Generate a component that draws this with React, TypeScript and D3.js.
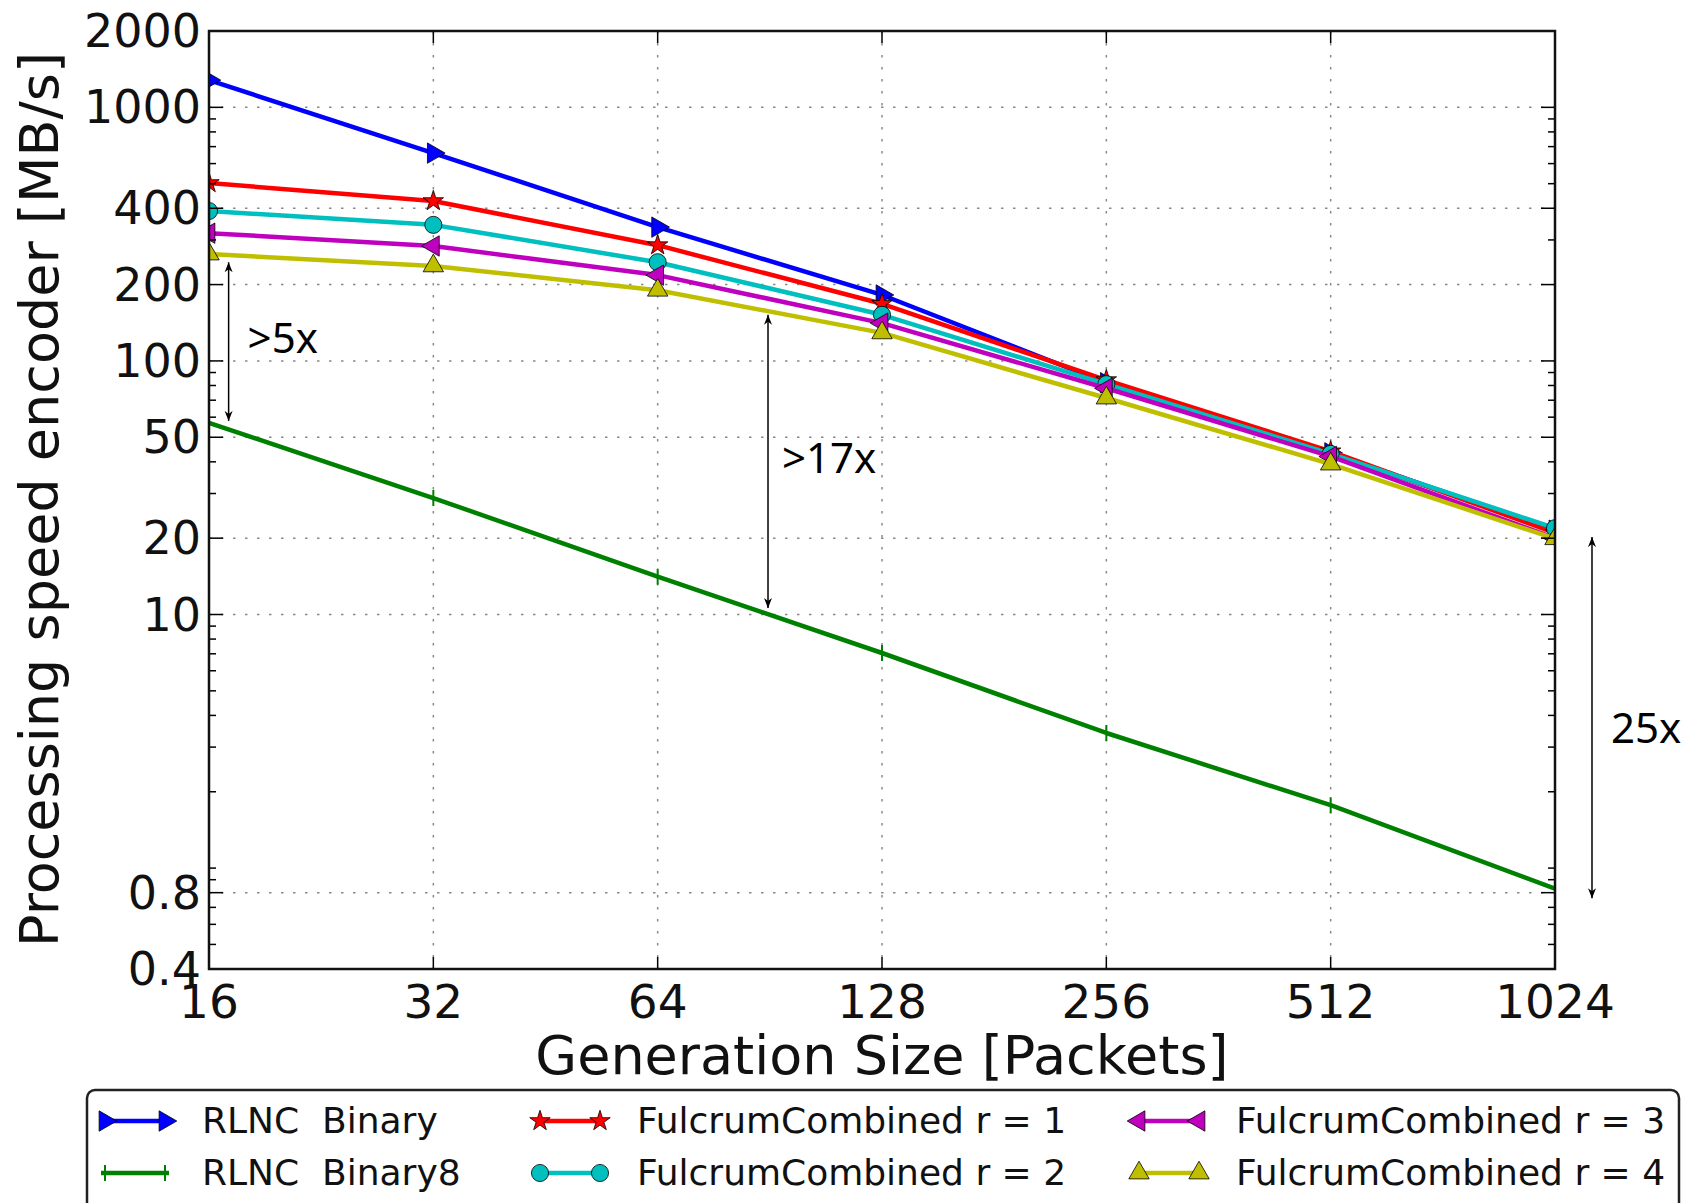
import React, { useEffect, useRef } from 'react';
import * as d3 from 'd3';

const WIDTH = 1684;
const HEIGHT = 1203;
const margin = { top: 31, right: 129, bottom: 234, left: 209 };

// generation sizes (x) and encoder speed in MB/s (y)
const generationSizes = [16, 32, 64, 128, 256, 512, 1024];
const rlncBinary = [1280, 660, 337, 182, 82, 43.4, 21.5];
const rlncBinary8 = [57, 28.8, 14.1, 7.05, 3.41, 1.77, 0.83];
const fulcrumR1 = [503, 427, 286, 168, 84, 44, 21];
const fulcrumR2 = [390, 344, 245, 152, 81, 43, 21.9];
const fulcrumR3 = [319, 284, 218, 141, 78, 42, 20];
const fulcrumR4 = [264, 237, 190, 129, 71.4, 39.2, 19.9];

const seriesNames = [
	'RLNC  Binary',
	'RLNC  Binary8',
	'FulcrumCombined r = 1',
	'FulcrumCombined r = 2',
	'FulcrumCombined r = 3',
	'FulcrumCombined r = 4',
];
const seriesValues = [rlncBinary, rlncBinary8, fulcrumR1, fulcrumR2, fulcrumR3, fulcrumR4];
const seriesColors = ['#0000ff', '#008000', '#ff0000', '#00bfbf', '#bf00bf', '#bfbf00'];
const seriesMarkers = ['tri-right', 'vline', 'star', 'circle', 'tri-left', 'tri-up'];

const yTicks = [0.4, 0.8, 10, 20, 50, 100, 200, 400, 1000, 2000];
const yTickLabels = ['0.4', '0.8', '10', '20', '50', '100', '200', '400', '1000', '2000'];
const xTickLabels = ['16', '32', '64', '128', '256', '512', '1024'];

// hand-drawn annotations: arrow at generation size gen, between two speeds
const annotations = [
	{ gen: 17, from: 245, to: 58, label: '>5x', dx: 19, dy: 11 },
	{ gen: 90, from: 152, to: 10.6, label: '>17x', dx: 14, dy: 12 },
	{ gen: 1148, from: 20.2, to: 0.76, label: '25x', dx: 19, dy: 25 },
];

const FONT = '"DejaVu Sans", sans-serif';

function drawMarker(g, kind, color, cx, cy) {
	if (kind === 'vline') {
		g.append('path')
			.attr('d', 'M0,-8V8')
			.attr('transform', `translate(${cx},${cy})`)
			.attr('stroke', color)
			.attr('stroke-width', 2);
		return;
	}
	let path;
	let rot = 0;
	if (kind === 'circle') path = d3.symbol(d3.symbolCircle, 230)();
	else if (kind === 'star') path = d3.symbol(d3.symbolStar, 130)();
	else {
		path = d3.symbol(d3.symbolTriangle, 180)();
		rot = kind === 'tri-right' ? 90 : kind === 'tri-left' ? -90 : 0;
	}
	g.append('path')
		.attr('d', path)
		.attr('transform', `translate(${cx},${cy}) rotate(${rot})`)
		.attr('fill', color)
		.attr('stroke', '#000')
		.attr('stroke-width', 0.8);
}

export default function App() {
	const ref = useRef(null);

	useEffect(() => {
		const svg = d3.select(ref.current);
		svg.selectAll('*').remove();

		const x = d3
			.scaleLog()
			.base(2)
			.domain([16, 1024])
			.range([margin.left, WIDTH - margin.right]);
		const y = d3
			.scaleLog()
			.domain([0.4, 2000])
			.range([HEIGHT - margin.bottom, margin.top]);
		const [x0, x1] = x.range();
		const [y0, y1] = y.range();

		svg.append('rect').attr('width', WIDTH).attr('height', HEIGHT).attr('fill', '#fff');

		const defs = svg.append('defs');
		defs.append('clipPath')
			.attr('id', 'plot-clip')
			.append('rect')
			.attr('x', x0)
			.attr('y', y1)
			.attr('width', x1 - x0)
			.attr('height', y0 - y1);
		defs.append('marker')
			.attr('id', 'arrowhead')
			.attr('viewBox', '0 0 10 10')
			.attr('refX', 10)
			.attr('refY', 5)
			.attr('markerWidth', 10)
			.attr('markerHeight', 10)
			.attr('markerUnits', 'userSpaceOnUse')
			.attr('orient', 'auto-start-reverse')
			.append('path')
			.attr('d', 'M0,1 L10,5 L0,9 L3,5 z')
			.attr('fill', '#000');

		// grid
		const grid = svg.append('g').attr('stroke', '#8a8a8a').attr('stroke-width', 1.5).attr('stroke-dasharray', '2.5,9.5');
		grid.selectAll('.hgrid')
			.data(yTicks.filter(v => v > 0.4 && v < 2000))
			.enter()
			.append('line')
			.attr('x1', x0)
			.attr('x2', x1)
			.attr('y1', d => y(d))
			.attr('y2', d => y(d));
		grid.selectAll('.vgrid')
			.data(generationSizes.slice(1, -1))
			.enter()
			.append('line')
			.attr('x1', d => x(d))
			.attr('x2', d => x(d))
			.attr('y1', y1)
			.attr('y2', y0);

		// series
		const plot = svg.append('g').attr('clip-path', 'url(#plot-clip)');
		const makeLine = d3
			.line()
			.x((d, i) => x(generationSizes[i]))
			.y(d => y(d));
		seriesValues.forEach((values, s) => {
			plot.append('path')
				.attr('d', makeLine(values))
				.attr('fill', 'none')
				.attr('stroke', seriesColors[s])
				.attr('stroke-width', 4.5)
				.attr('stroke-linejoin', 'round');
			values.forEach((v, i) => drawMarker(plot, seriesMarkers[s], seriesColors[s], x(generationSizes[i]), y(v)));
		});

		// ticks
		const ticks = svg.append('g').attr('stroke', '#000').attr('stroke-width', 1.5);
		const minorTicks = [];
		for (let k = -1; k <= 3; k++) {
			for (let n = 1; n <= 9; n++) {
				const v = +(n * Math.pow(10, k)).toPrecision(6);
				if (v >= 0.4 && v <= 2000 && !yTicks.includes(v)) minorTicks.push(v);
			}
		}
		const yTickMarks = [...yTicks.map(v => ({ v, len: 14 })), ...minorTicks.map(v => ({ v, len: 7 }))];
		yTickMarks.forEach(t => {
			ticks.append('line').attr('x1', x0).attr('x2', x0 + t.len).attr('y1', y(t.v)).attr('y2', y(t.v));
			ticks.append('line').attr('x1', x1).attr('x2', x1 - t.len).attr('y1', y(t.v)).attr('y2', y(t.v));
		});
		generationSizes.forEach(g => {
			ticks.append('line').attr('x1', x(g)).attr('x2', x(g)).attr('y1', y0).attr('y2', y0 - 12);
			ticks.append('line').attr('x1', x(g)).attr('x2', x(g)).attr('y1', y1).attr('y2', y1 + 12);
		});

		// frame
		svg.append('rect')
			.attr('x', x0)
			.attr('y', y1)
			.attr('width', x1 - x0)
			.attr('height', y0 - y1)
			.attr('fill', 'none')
			.attr('stroke', '#111')
			.attr('stroke-width', 2.5);

		// tick labels
		const labels = svg.append('g').attr('font-family', FONT).attr('fill', '#111');
		yTicks.forEach((v, i) => {
			labels.append('text')
				.attr('x', x0 - 8)
				.attr('y', y(v) + 16)
				.attr('text-anchor', 'end')
				.attr('font-size', 46)
				.text(yTickLabels[i]);
		});
		generationSizes.forEach((g, i) => {
			labels.append('text')
				.attr('x', x(g))
				.attr('y', y0 + 49)
				.attr('text-anchor', 'middle')
				.attr('font-size', 47)
				.text(xTickLabels[i]);
		});

		// axis titles
		labels.append('text')
			.attr('x', (x0 + x1) / 2)
			.attr('y', 1074)
			.attr('text-anchor', 'middle')
			.attr('font-size', 54)
			.text('Generation Size [Packets]');
		labels.append('text')
			.attr('transform', `translate(58,${(54 + 945) / 2}) rotate(-90)`)
			.attr('text-anchor', 'middle')
			.attr('font-size', 54)
			.text('Processing speed encoder [MB/s]');

		// annotations
		const ann = svg.append('g');
		annotations.forEach(a => {
			const ax = x(a.gen);
			ann.append('line')
				.attr('x1', ax)
				.attr('x2', ax)
				.attr('y1', y(a.from))
				.attr('y2', y(a.to))
				.attr('stroke', '#000')
				.attr('stroke-width', 1.5)
				.attr('marker-start', 'url(#arrowhead)')
				.attr('marker-end', 'url(#arrowhead)');
			ann.append('text')
				.attr('x', ax + a.dx)
				.attr('y', (y(a.from) + y(a.to)) / 2 + a.dy)
				.attr('font-family', '"Noto Sans", sans-serif')
				.attr('font-size', 42)
				.attr('fill', '#000')
				.text(a.label);
		});

		// legend
		const legend = svg.append('g');
		legend.append('rect')
			.attr('x', 87)
			.attr('y', 1090)
			.attr('width', 1592)
			.attr('height', 150)
			.attr('rx', 8)
			.attr('fill', '#fff')
			.attr('stroke', '#222')
			.attr('stroke-width', 2.5);
		const colX = [101, 536, 1135];
		const rowY = [1133, 1185];
		seriesNames.forEach((name, s) => {
			const cx = colX[Math.floor(s / 2)];
			const baseline = rowY[s % 2];
			const hy = baseline - 12;
			legend.append('line')
				.attr('x1', cx)
				.attr('x2', cx + 68)
				.attr('y1', hy)
				.attr('y2', hy)
				.attr('stroke', seriesColors[s])
				.attr('stroke-width', 4.5);
			drawMarker(legend, seriesMarkers[s], seriesColors[s], cx + 4, hy);
			drawMarker(legend, seriesMarkers[s], seriesColors[s], cx + 64, hy);
			legend.append('text')
				.attr('x', cx + 101)
				.attr('y', baseline)
				.attr('font-family', FONT)
				.attr('font-size', 36)
				.attr('fill', '#111')
				.style('white-space', 'pre')
				.text(name);
		});
	}, []);

	return (
		<svg
			ref={ref}
			width={WIDTH}
			height={HEIGHT}
			style={{ position: 'absolute', left: 0, top: 0, display: 'block' }}
		/>
	);
}
